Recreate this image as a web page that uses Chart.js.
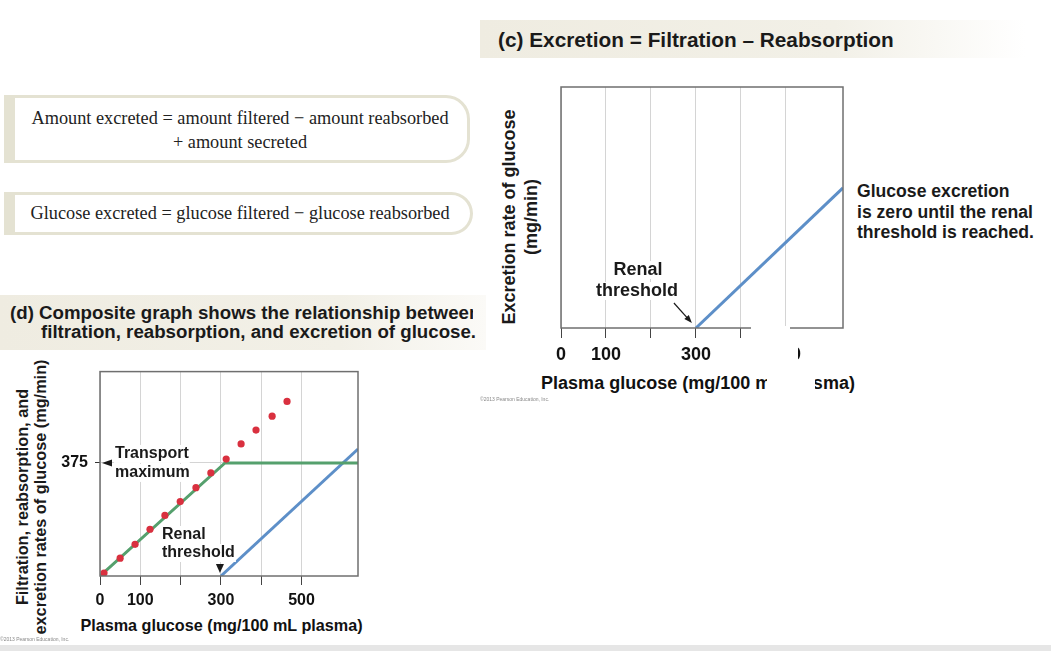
<!DOCTYPE html>
<html>
<head>
<meta charset="utf-8">
<script src="https://cdn.jsdelivr.net/npm/chart.js"></script>
<style>
  html, body { margin: 0; padding: 0; background: #fff; }
  body { width: 1051px; height: 651px; position: relative; overflow: hidden;
         font-family: "Liberation Sans", Arial, sans-serif; color: #1a1a1a; }
  .abs { position: absolute; white-space: nowrap; }
  .band { position: absolute; }
  .box { position: absolute; box-sizing: border-box; border: 3px solid #e4e2d2;
         border-left: 11px solid #e4e2d2; border-radius: 0 24px 24px 0; background: #fff; }
  .serif { font-family: "Liberation Serif", "Times New Roman", serif; font-size: 18.3px;
           color: #222; text-align: center; }
  .xtitle { position: absolute; width: 400px; text-align: center; font-weight: bold;
            white-space: nowrap; color: #111; }
  .ytitle { position: absolute; font-weight: bold; text-align: center; white-space: nowrap;
            transform: translate(-50%, -50%) rotate(-90deg); color: #1a1a1a; }
  .hide { position: absolute; background: #fff; z-index: 5; }
  .copy { position: absolute; font-size: 5px; color: #888; white-space: nowrap; }
  canvas { position: absolute; }
</style>
</head>
<body>

<!-- formula boxes -->
<div class="box" style="left:4px; top:95px; width:466px; height:68px;"></div>
<div class="abs serif" style="left:15px; width:450px; top:106px; line-height:24px;">Amount excreted = amount filtered − amount reabsorbed</div>
<div class="abs serif" style="left:15px; width:450px; top:130px; line-height:24px;">+ amount secreted</div>
<div class="box" style="left:4px; top:192px; width:469px; height:43px;"></div>
<div class="abs serif" style="left:15px; width:450px; top:201px; line-height:24px;">Glucose excreted = glucose filtered − glucose reabsorbed</div>

<!-- (c) heading -->
<div class="band" style="left:480px; top:20px; width:545px; height:38px; background:linear-gradient(to right, #efece1 0%, #f2f0e7 65%, #ffffff 100%);"></div>
<div class="abs" style="left:498px; top:28px; line-height:24px; font-size:20.8px; font-weight:bold;">(c) Excretion = Filtration – Reabsorption</div>

<!-- (d) heading -->
<div class="band" style="left:0; top:295px; width:486px; height:55px; background:linear-gradient(to right, #efece1 0%, #f2f0e7 70%, #fbfaf7 100%);"></div>
<div class="abs" style="left:0; top:303px; width:473px; overflow:hidden;">
  <div style="padding-left:10px; line-height:20px; font-size:18.7px; font-weight:bold;">(d) Composite graph shows the relationship between</div>
</div>
<div class="abs" style="left:41px; top:322px; line-height:20px; font-size:18.7px; font-weight:bold;">filtration, reabsorption, and excretion of glucose.</div>

<!-- (c) callout -->
<div class="abs" style="left:857px; top:181px; line-height:20.5px; font-size:17.6px; font-weight:bold;">Glucose excretion<br>is zero until the renal<br>threshold is reached.</div>

<!-- axis titles -->
<div class="ytitle" style="left:520px; top:217px; font-size:18px; line-height:22px;">Excretion rate of glucose<br>(mg/min)</div>
<div class="ytitle" style="left:31px; top:497px; font-size:16.3px; line-height:18px;">Filtration, reabsorption, and<br>excretion rates of glucose (mg/min)</div>
<div class="xtitle" style="left:498px; top:372px; font-size:18px; line-height:22px;">Plasma glucose (mg/100 mL plasma)</div>
<div class="xtitle" style="left:21.5px; top:615px; font-size:16.2px; line-height:20px;">Plasma glucose (mg/100 mL plasma)</div>

<canvas id="chartC" width="375" height="330" style="left:480px; top:75px;"></canvas>
<canvas id="chartD" width="375" height="290" style="left:0; top:355px;"></canvas>

<!-- white patch over part of the (c) axis, as in the picture -->
<div class="hide" style="left:751px; top:326px; width:39px; height:20px;"></div>
<div class="hide" style="left:751px; top:346px; width:47px; height:22px;"></div>
<div class="hide" style="left:767px; top:368px; width:48px; height:27px;"></div>

<div class="copy" style="left:480px; top:396px;">©2013 Pearson Education, Inc.</div>
<div class="copy" style="left:0; top:636px;">©2013 Pearson Education, Inc.</div>
<div class="band" style="left:0; top:645px; width:1051px; height:6px; background:#e6e6e6;"></div>

<script>
// (d) composite graph: filtration (dots), reabsorption (green), excretion (blue)
const filteredGlucose = [10, 50, 87, 124, 161, 199, 238, 275, 313, 350, 387, 427, 464];
const filteredRate = [10, 59, 105, 155, 201, 247, 293, 342, 388, 438, 484, 530, 579];
const reabsorbedGlucose = [0, 310, 640];
const reabsorbedRate = [0, 375, 375];
const excretedGlucoseD = [300, 640];
const excretedRateD = [0, 421];

// (c) excretion only
const excretedGlucoseC = [300, 627];
const excretedRateC = [0, 465];

const xTicks = [0, 100, 200, 300, 400, 500];
const xTickLabels = ['0', '100', '', '300', '', '500'];
const yTicksD = [375];

const FAMILY = '"Liberation Sans", Arial, sans-serif';
const GREEN = '#55a06d';
const BLUE = '#5d8fc8';
const RED = '#d9303f';

function pts(xs, ys) {
    return xs.map((x, i) => ({ x: x, y: ys[i] }));
}

// box round the plot area
const frame = {
    id: 'frame',
    afterDatasetsDraw(chart) {
        const a = chart.chartArea, ctx = chart.ctx;
        ctx.save();
        ctx.strokeStyle = '#6f6f6f';
        ctx.lineWidth = 1.5;
        ctx.strokeRect(a.left, a.top, a.right - a.left, a.bottom - a.top);
        ctx.restore();
    }
};

function tri(ctx, p) {
    ctx.beginPath();
    ctx.moveTo(p[0][0], p[0][1]);
    ctx.lineTo(p[1][0], p[1][1]);
    ctx.lineTo(p[2][0], p[2][1]);
    ctx.closePath();
    ctx.fill();
}

// text with a white patch behind it
function label(ctx, text, x, y, align) {
    const w = ctx.measureText(text).width;
    const x0 = align === 'center' ? x - w / 2 : x;
    ctx.save();
    ctx.fillStyle = '#fff';
    ctx.fillRect(x0 - 1, y - 9, w + 2, 18);
    ctx.restore();
    ctx.textAlign = align;
    ctx.fillText(text, x, y);
}

const notesD = {
    id: 'notesD',
    afterDatasetsDraw(chart) {
        const { ctx, scales: { x, y } } = chart;
        const left = x.getPixelForValue(0);
        const tm = y.getPixelForValue(reabsorbedRate[1]);
        const bottom = y.getPixelForValue(0);
        const thr = x.getPixelForValue(excretedGlucoseD[0]);
        ctx.save();
        ctx.fillStyle = '#1a1a1a';
        ctx.font = 'bold 16px ' + FAMILY;
        ctx.textBaseline = 'middle';
        label(ctx, 'Transport', left + 15, tm - 9, 'left');
        label(ctx, 'maximum', left + 15, tm + 10, 'left');
        label(ctx, 'Renal', left + 62, bottom - 41, 'left');
        label(ctx, 'threshold', left + 62, bottom - 23, 'left');
        ctx.fillStyle = '#1a1a1a';
        tri(ctx, [[left + 2, tm], [left + 12, tm - 3.5], [left + 12, tm + 3.5]]);
        tri(ctx, [[thr - 1, bottom - 3], [thr - 5, bottom - 12], [thr + 3, bottom - 12]]);
        ctx.restore();
    }
};

const notesC = {
    id: 'notesC',
    afterDatasetsDraw(chart) {
        const { ctx, scales: { x, y } } = chart;
        const bottom = y.getPixelForValue(0);
        const thr = x.getPixelForValue(excretedGlucoseC[0]);
        ctx.save();
        ctx.fillStyle = '#1a1a1a';
        ctx.font = 'bold 18px ' + FAMILY;
        ctx.textBaseline = 'middle';
        label(ctx, 'Renal', thr - 58, bottom - 58, 'center');
        label(ctx, 'threshold', thr - 59, bottom - 37, 'center');
        // pointer to the threshold
        const x1 = thr - 22, y1 = bottom - 25, x2 = thr - 4, y2 = bottom - 5;
        const ang = Math.atan2(y2 - y1, x2 - x1);
        ctx.strokeStyle = '#1a1a1a';
        ctx.lineWidth = 1.2;
        ctx.beginPath();
        ctx.moveTo(x1, y1);
        ctx.lineTo(x2 - 5 * Math.cos(ang), y2 - 5 * Math.sin(ang));
        ctx.stroke();
        ctx.fillStyle = '#1a1a1a';
        tri(ctx, [[x2, y2],
            [x2 - 8 * Math.cos(ang) + 3 * Math.sin(ang), y2 - 8 * Math.sin(ang) - 3 * Math.cos(ang)],
            [x2 - 8 * Math.cos(ang) - 3 * Math.sin(ang), y2 - 8 * Math.sin(ang) + 3 * Math.cos(ang)]]);
        ctx.restore();
    }
};

function xScale(max, tickSize, tickLen, axisHeight) {
    return {
        type: 'linear',
        min: 0,
        max: max,
        afterBuildTicks: s => { s.ticks = xTicks.map(v => ({ value: v })); },
        afterFit: s => { s.height = axisHeight; },
        border: { display: false },
        grid: { color: '#d4d4d4', tickColor: '#444', tickLength: tickLen, lineWidth: 1 },
        ticks: {
            autoSkip: false, maxRotation: 0, padding: 6, color: '#111',
            font: { family: FAMILY, size: tickSize, weight: 'bold' },
            callback: (v, i) => xTickLabels[i]
        }
    };
}

const common = {
    responsive: false,
    maintainAspectRatio: false,
    animation: false,
    events: [],
    plugins: { legend: { display: false }, tooltip: { enabled: false } }
};

new Chart(document.getElementById('chartD').getContext('2d'), {
    type: 'scatter',
    data: {
        datasets: [{
            label: 'Filtration',
            data: pts(filteredGlucose, filteredRate),
            showLine: false,
            pointRadius: 3.6,
            pointBackgroundColor: RED,
            pointBorderWidth: 0,
            order: 0
        }, {
            label: 'Reabsorption',
            data: pts(reabsorbedGlucose, reabsorbedRate),
            showLine: true,
            borderColor: GREEN,
            borderWidth: 3,
            pointRadius: 0,
            order: 1
        }, {
            label: 'Excretion',
            data: pts(excretedGlucoseD, excretedRateD),
            showLine: true,
            borderColor: BLUE,
            borderWidth: 3,
            pointRadius: 0,
            order: 2
        }]
    },
    options: Object.assign({}, common, {
        layout: { padding: { top: 15, right: 17, bottom: 0, left: 0 } },
        scales: {
            x: xScale(640, 16, 9, 69),
            y: {
                type: 'linear',
                min: 0,
                max: 678,
                afterBuildTicks: s => { s.ticks = yTicksD.map(v => ({ value: v })); },
                afterFit: s => { s.width = 100; },
                border: { display: false },
                grid: { color: '#d4d4d4', tickColor: '#333', tickLength: 5 },
                ticks: {
                    padding: 7, color: '#111',
                    font: { family: FAMILY, size: 16, weight: 'bold' },
                    callback: v => String(v)
                }
            }
        }
    }),
    plugins: [notesD, frame]
});

new Chart(document.getElementById('chartC').getContext('2d'), {
    type: 'scatter',
    data: {
        datasets: [{
            label: 'Excretion',
            data: pts(excretedGlucoseC, excretedRateC),
            showLine: true,
            borderColor: BLUE,
            borderWidth: 3,
            pointRadius: 0
        }]
    },
    options: Object.assign({}, common, {
        layout: { padding: { top: 12, right: 12, bottom: 0, left: 0 } },
        scales: {
            x: xScale(627, 18, 10, 77),
            y: {
                type: 'linear',
                min: 0,
                max: 800,
                afterFit: s => { s.width = 81; },
                border: { display: false },
                grid: { display: false },
                ticks: { display: false }
            }
        }
    }),
    plugins: [notesC, frame]
});
</script>
</body>
</html>
